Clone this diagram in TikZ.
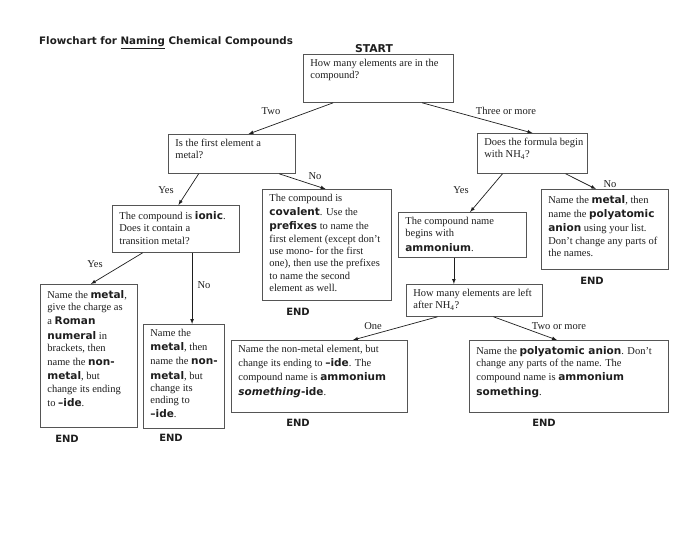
\documentclass[tikz,border=0pt]{standalone}
\usepackage{fontspec}
\setmainfont{Liberation Serif}
\newfontfamily\heavy{DejaVu Sans}
\usetikzlibrary{arrows, calc}
\definecolor{inkgray}{RGB}{30, 30, 30}
\definecolor{linegray}{RGB}{85, 85, 85}
% bold sans words inside the boxes
\newcommand{\hv}[1]{{\heavy\bfseries\rule[-3pt]{0pt}{13.5pt}#1}}
% top aligned box text: width, height, lines
\newcommand{\boxtext}[3]{\parbox[t][#2][t]{#1}{\begin{tabular}[t]{@{}l@{}}#3\end{tabular}}}

\begin{document}
\begin{tikzpicture}[
    x=1pt, y=-1pt,
    box/.style={rectangle, draw=linegray, line width=0.8pt, anchor=north west, inner xsep=7pt, inner ysep=3.5pt, text=inkgray, font=\fontsize{10.5}{12.3}\selectfont},
    lbl/.style={text=inkgray, inner sep=1pt, font=\fontsize{10.5}{12}\selectfont},
    endlbl/.style={text=inkgray, inner sep=0pt, font=\heavy\bfseries\fontsize{10}{12}\selectfont},
    arrow/.style={->, >=latex, line width=0.7pt, draw=inkgray}
]
    \fill[white] (0,0) rectangle (700,540);
    \useasboundingbox (0,0) rectangle (700,540);

    \node[endlbl, anchor=base west, font=\heavy\bfseries\fontsize{10.3}{12}\selectfont] (title) at (39,45) {Flowchart for \underline{Naming} Chemical Compounds};
    \node[endlbl, font=\heavy\bfseries\fontsize{10.8}{12}\selectfont] (startlbl) at (374,49) {START};

    % questions
    \node[box] (start) at (303,54) {\boxtext{136pt}{41pt}{How many elements are in the\\compound?}};
    \node[box] (first) at (168,134) {\boxtext{113pt}{32pt}{Is the first element a\\metal?}};
    \node[box] (formula) at (477,133) {\boxtext{96pt}{33pt}{Does the formula begin\\with NH\textsubscript{4}?}};
    \node[box] (ionic) at (112,205) {\boxtext{113pt}{40pt}{The compound is \hv{ionic}.\\Does it contain a\\transition metal?}};
    \node[box] (amm) at (398,212) {\boxtext{114pt}{38pt}{The compound name\\begins with\\\hv{ammonium}.}};
    \node[box] (left) at (406,284) {\boxtext{122pt}{25pt}{How many elements are left\\after NH\textsubscript{4}?}};

    % answers
    \node[box] (covalent) at (262,189) {\boxtext{115pt}{104pt}{The compound is\\\hv{covalent}. Use the\\\hv{prefixes} to name the\\first element (except don’t\\use mono- for the first\\one), then use the prefixes\\to name the second\\element as well.}};
    \node[box] (polyat) at (541,189) {\boxtext{113pt}{73pt}{Name the \hv{metal}, then\\name the \hv{polyatomic}\\\hv{anion} using your list.\\Don’t change any parts of\\the names.}};
    \node[box] (roman) at (40,284) {\boxtext{83pt}{136pt}{Name the \hv{metal},\\give the charge as\\a \hv{Roman}\\\hv{numeral} in\\brackets, then\\name the \hv{non-}\\\hv{metal}, but\\change its ending\\to \hv{–ide}.}};
    \node[box] (nonmetal) at (143,324) {\boxtext{67pt}{97pt}{Name the\\\hv{metal}, then\\name the \hv{non-}\\\hv{metal}, but\\change its\\ending to\\\hv{–ide}.}};
    \node[box] (one) at (231,340) {\boxtext{162pt}{65pt}{Name the non-metal element, but\\change its ending to \hv{–ide}. The\\compound name is \hv{ammonium}\\\hv{\itshape something}\hv{-ide}.}};
    \node[box] (two) at (469,340) {\boxtext{185pt}{65pt}{Name the \hv{polyatomic anion}. Don’t\\change any parts of the name. The\\compound name is \hv{ammonium}\\\hv{something}.}};

    \node[endlbl] (endcov) at (298,312) {END};
    \node[endlbl] (endpoly) at (592,281) {END};
    \node[endlbl] (endroman) at (67,439) {END};
    \node[endlbl] (endnon) at (171,438) {END};
    \node[endlbl] (endone) at (298,423) {END};
    \node[endlbl] (endtwo) at (544,423) {END};

    % answer labels
    \node[lbl] (ltwo) at (271,111) {Two};
    \node[lbl] (lthree) at (506,111) {Three or more};
    \node[lbl] (lyes1) at (166,190) {Yes};
    \node[lbl] (lno1) at (315,176) {No};
    \node[lbl] (lyes2) at (461,190) {Yes};
    \node[lbl] (lno2) at (610,184) {No};
    \node[lbl] (lyes3) at (95,264) {Yes};
    \node[lbl] (lno3) at (204,285) {No};
    \node[lbl] (lone) at (373,326) {One};
    \node[lbl] (ltwomore) at (559,326) {Two or more};

    \coordinate (nmtop) at ($(nonmetal.north west)!.6!(nonmetal.north east)$);
    \coordinate (lefttop) at ($(left.north west)!.35!(left.north east)$);

    \draw[arrow] ($(start.south west)!.2!(start.south east)$) -- ($(first.north west)!.63!(first.north east)$);
    \draw[arrow] ($(start.south west)!.79!(start.south east)$) -- ($(formula.north west)!.5!(formula.north east)$);
    \draw[arrow] ($(first.south west)!.24!(first.south east)$) -- ($(ionic.north west)!.52!(ionic.north east)$);
    \draw[arrow] ($(first.south west)!.87!(first.south east)$) -- ($(covalent.north west)!.49!(covalent.north east)$);
    \draw[arrow] ($(formula.south west)!.23!(formula.south east)$) -- ($(amm.north west)!.56!(amm.north east)$);
    \draw[arrow] ($(formula.south west)!.8!(formula.south east)$) -- ($(polyat.north west)!.43!(polyat.north east)$);
    \draw[arrow] ($(ionic.south west)!.24!(ionic.south east)$) -- ($(roman.north west)!.52!(roman.north east)$);
    \draw[arrow] (ionic.south -| nmtop) -- (nmtop);
    \draw[arrow] (amm.south -| lefttop) -- (lefttop);
    \draw[arrow] ($(left.south west)!.23!(left.south east)$) -- ($(one.north west)!.69!(one.north east)$);
    \draw[arrow] ($(left.south west)!.64!(left.south east)$) -- ($(two.north west)!.44!(two.north east)$);
\end{tikzpicture}
\end{document}
